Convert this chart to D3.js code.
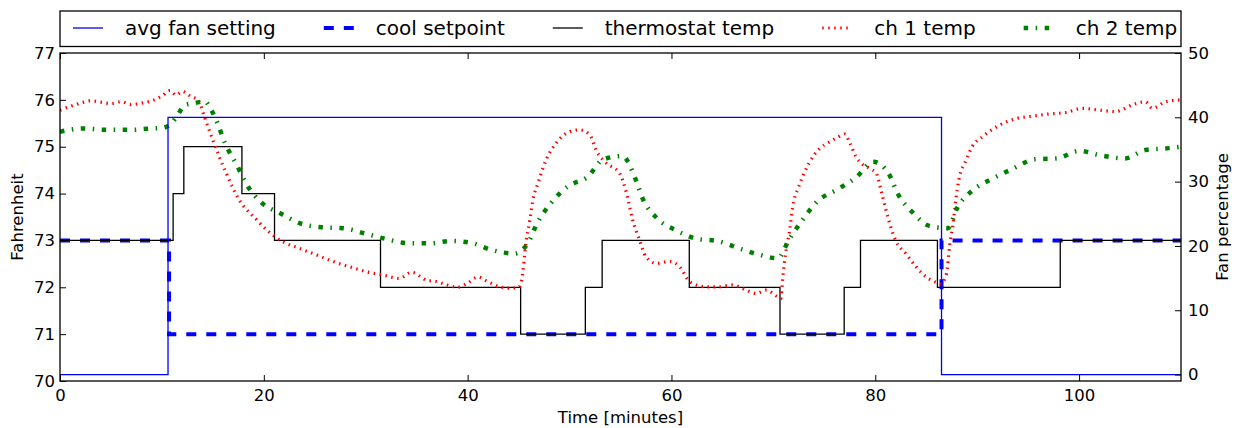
<!DOCTYPE html>
<html>
<head>
<meta charset="utf-8">
<script src="https://cdn.jsdelivr.net/npm/d3@7"></script>
<style>
  body { margin: 0; background: #fff; }
  text { font-family: "DejaVu Sans", sans-serif; fill: #000; }
  .tick line { stroke: #000; stroke-width: 1; }
</style>
</head>
<body>
<div id="chart"></div>
<script>
// data
var fanTimes = [0, 10.6, 86.5, 110];
var fanValues = [0, 40, 0, 0];

var setpointTimes = [0, 10.7, 86.5, 110];
var setpointValues = [73, 71, 73, 73];

var thermoTimes = [0, 11.1, 12.15, 17.85, 21.05, 31.45, 45.2, 51.55, 53.2, 61.75, 70.65, 76.95, 78.55, 86.1, 98.15, 110];
var thermoValues = [73, 74, 75, 74, 73, 72, 71, 72, 73, 72, 71, 72, 73, 72, 73, 73];

var ch1Times = [0, 1, 2, 3, 4, 5, 6, 7, 8, 9, 10, 10.8, 11.4, 12, 12.8, 13.6, 14.2, 15, 16.3, 17.6, 19.3, 20.3,
  21.9, 23.5, 25.2, 26.8, 28.4, 30.1, 31.7, 33.3, 34.5, 36, 37, 38, 39, 40, 41, 42, 43, 44, 45, 45.3, 45.75,
  46.1, 46.4, 46.9, 47.7, 48.7, 50, 51, 52, 52.6, 53.6, 54.9, 55.6, 56.2, 56.8, 57.5, 58.5, 59.8, 60.8, 61.8,
  63.4, 64.7, 66, 67.3, 68.3, 69.3, 70.4, 70.75, 70.9, 71.2, 71.6, 71.9, 72.5, 73.5, 74.5, 75.5, 76.3, 77,
  77.5, 78.1, 78.8, 79.4, 80.1, 80.55, 81.05, 81.5, 82, 83, 84, 85, 85.8, 86.4, 87, 87.3, 87.6, 87.9, 88.2,
  88.9, 89.5, 90.5, 92.2, 93.8, 95.4, 97.1, 98.7, 100.3, 102, 103.6, 105.2, 106.5, 107.2, 108.5, 110];
var ch1Values = [75.78, 75.86, 75.93, 75.98, 75.95, 75.92, 75.96, 75.9, 75.93, 75.98, 76.08, 76.2, 76.1, 76.18, 76.08, 75.98, 75.62, 75.14, 74.44, 73.86, 73.44, 73.22,
  72.97, 72.83, 72.69, 72.55, 72.44, 72.33, 72.26, 72.19, 72.32, 72.15, 72.12, 72.05, 72.0, 72.09, 72.22, 72.12, 72.02, 71.98, 72.0, 72.15, 73.0,
  73.43, 73.86, 74.22, 74.72, 75.08, 75.32, 75.36, 75.25, 74.93, 74.65, 74.44, 74.0, 73.43, 73.05, 72.65, 72.51, 72.55, 72.44, 72.12,
  72.01, 72.01, 72.05, 71.94, 71.87, 71.94, 71.8, 71.76, 72.15, 72.72, 73.22, 73.72, 74.15, 74.65, 74.95, 75.1, 75.2, 75.27,
  75.08, 74.79, 74.61, 74.54, 74.43, 74.08, 73.65, 73.3, 73.0, 72.72, 72.44, 72.22, 72.12, 72.07, 72.3, 72.9, 73.3, 73.86, 74.29,
  74.71, 75.0, 75.21, 75.46, 75.6, 75.65, 75.7, 75.73, 75.82, 75.78, 75.75, 75.89, 75.96, 75.82, 75.96, 76.0];

var ch2Times = [0, 2.3, 4.6, 6.9, 9, 10, 10.95, 11.6, 12.25, 13.2, 14.2, 14.8, 15.4, 16.2, 17.3, 18.3, 19.8, 21.6,
  23.5, 25.7, 27.8, 29.9, 32, 34.3, 36.4, 38.4, 40.5, 42.3, 44.6, 45.9, 46.9, 48.2, 49.8, 51.8, 53.3, 55.2,
  56.4, 57.2, 58.6, 60.5, 62.6, 64.5, 66.5, 68.4, 70.4, 71.6, 72.9, 74.3, 76.3, 78.1, 79.8, 81.3, 82.25, 83.7,
  85.3, 87.1, 88.1, 89.5, 91.5, 93.6, 95.6, 97.8, 100, 102.2, 104.5, 106.5, 108.75, 110];
var ch2Values = [75.32, 75.39, 75.36, 75.36, 75.39, 75.4, 75.5, 75.7, 75.89, 75.93, 75.97, 75.8, 75.53, 75.07, 74.63, 74.2, 73.8, 73.58,
  73.37, 73.28, 73.26, 73.15, 73.03, 72.94, 72.94, 72.99, 72.94, 72.8, 72.72, 72.94, 73.4, 73.8, 74.15, 74.36, 74.73, 74.8,
  74.35, 73.88, 73.47, 73.21, 73.03, 72.99, 72.84, 72.71, 72.62, 73.04, 73.45, 73.83, 74.09, 74.34, 74.68, 74.43, 73.98, 73.59,
  73.31, 73.26, 73.72, 74.06, 74.32, 74.54, 74.73, 74.75, 74.91, 74.81, 74.75, 74.93, 74.97, 75.0];

var xTicks = [0, 20, 40, 60, 80, 100];
var leftTicks = [70, 71, 72, 73, 74, 75, 76, 77];
var rightTicks = [0, 10, 20, 30, 40, 50];
var legendNames = ["avg fan setting", "cool setpoint", "thermostat temp", "ch 1 temp", "ch 2 temp"];

// set parameters/spacing
var svgWidth = 1236;
var svgHeight = 428;
var margin = { top: 53, right: 55, bottom: 47, left: 60 };
var width = svgWidth - margin.left - margin.right;
var height = svgHeight - margin.top - margin.bottom;

// line styles, in legend order
var styles = [
  { color: "#0000ff", width: 1.3, dash: null },
  { color: "#0000ff", width: 4, dash: "10,10" },
  { color: "#000000", width: 1.3, dash: null },
  { color: "#ff0000", width: 3.2, dash: "1.5,4.5" },
  { color: "#008000", width: 4.5, dash: "4.5,7.5,1.5,7.5" }
];

var svg = d3.select("#chart")
  .append("svg")
  .attr("width", svgWidth)
  .attr("height", svgHeight);

var chart = svg.append("g")
  .attr("transform", `translate(${margin.left}, ${margin.top})`);

chart.append("clipPath")
  .attr("id", "plotclip")
  .append("rect")
  .attr("width", width)
  .attr("height", height);

// scales
var xScale = d3.scaleLinear().domain([0, 110]).range([0, width]);
var yLeft = d3.scaleLinear().domain([70, 77]).range([height, 0]);
var yRight = d3.scaleLinear().domain([-1, 50]).range([height, 0]);

function pairs(times, values) {
  return times.map(function(t, i) { return [t, values[i]]; });
}

var stepLeft = d3.line().x(d => xScale(d[0])).y(d => yLeft(d[1])).curve(d3.curveStepAfter);
var stepRight = d3.line().x(d => xScale(d[0])).y(d => yRight(d[1])).curve(d3.curveStepAfter);
var smoothLeft = d3.line().x(d => xScale(d[0])).y(d => yLeft(d[1])).curve(d3.curveMonotoneX);

var series = [
  stepRight(pairs(fanTimes, fanValues)),
  stepLeft(pairs(setpointTimes, setpointValues)),
  stepLeft(pairs(thermoTimes, thermoValues)),
  smoothLeft(pairs(ch1Times, ch1Values)),
  smoothLeft(pairs(ch2Times, ch2Values))
];

var lines = chart.append("g").attr("clip-path", "url(#plotclip)");
// draw setpoint, thermostat, channels, then the fan on top like the twin axis
[1, 2, 3, 4, 0].forEach(function(i) {
  lines.append("path")
    .attr("d", series[i])
    .attr("fill", "none")
    .attr("stroke", styles[i].color)
    .attr("stroke-width", styles[i].width)
    .attr("stroke-dasharray", styles[i].dash);
});

// axes, ticks point inward
var bottomAxis = d3.axisBottom(xScale).tickValues(xTicks).tickSizeInner(-6).tickSizeOuter(0).tickPadding(8);
var topAxis = d3.axisTop(xScale).tickValues(xTicks).tickSizeInner(-6).tickSizeOuter(0).tickFormat("");
var leftAxis = d3.axisLeft(yLeft).tickValues(leftTicks).tickFormat(d3.format("d")).tickSizeInner(-6).tickSizeOuter(0).tickPadding(5);
var rightAxis = d3.axisRight(yRight).tickValues(rightTicks).tickFormat(d3.format("d")).tickSizeInner(-6).tickSizeOuter(0).tickPadding(7);

var axes = [
  chart.append("g").attr("transform", `translate(0, ${height})`).call(bottomAxis),
  chart.append("g").call(topAxis),
  chart.append("g").call(leftAxis),
  chart.append("g").attr("transform", `translate(${width}, 0)`).call(rightAxis)
];
axes.forEach(function(a) {
  a.select(".domain").remove();
  a.selectAll("text").style("font-size", "16.5px").style("font-family", "DejaVu Sans");
});

// frame
chart.append("rect")
  .attr("width", width)
  .attr("height", height)
  .attr("fill", "none")
  .attr("stroke", "#000")
  .attr("stroke-width", 1.3);

// axis labels
chart.append("text")
  .attr("transform", `translate(${width / 2}, ${height + 42})`)
  .attr("text-anchor", "middle")
  .style("font-size", "16.5px")
  .text("Time [minutes]");

svg.append("text")
  .attr("transform", `translate(23, ${margin.top + height / 2}) rotate(-90)`)
  .attr("text-anchor", "middle")
  .style("font-size", "16.5px")
  .text("Fahrenheit");

svg.append("text")
  .attr("transform", `translate(1228, ${margin.top + height / 2}) rotate(-90)`)
  .attr("text-anchor", "middle")
  .style("font-size", "16.5px")
  .text("Fan percentage");

// legend
var legend = svg.append("g");
legend.append("rect")
  .attr("x", margin.left)
  .attr("y", 11)
  .attr("width", width)
  .attr("height", 35.5)
  .attr("fill", "#fff")
  .attr("stroke", "#000")
  .attr("stroke-width", 1.3);

var lx = 73;
legendNames.forEach(function(name, i) {
  legend.append("line")
    .attr("x1", lx)
    .attr("x2", lx + 30)
    .attr("y1", 28)
    .attr("y2", 28)
    .attr("stroke", styles[i].color)
    .attr("stroke-width", styles[i].width)
    .attr("stroke-dasharray", styles[i].dash);
  var t = legend.append("text")
    .attr("x", lx + 52)
    .attr("y", 34.5)
    .style("font-size", "20px")
    .text(name);
  lx = lx + 52 + t.node().getComputedTextLength() + 48;
});
</script>
</body>
</html>
